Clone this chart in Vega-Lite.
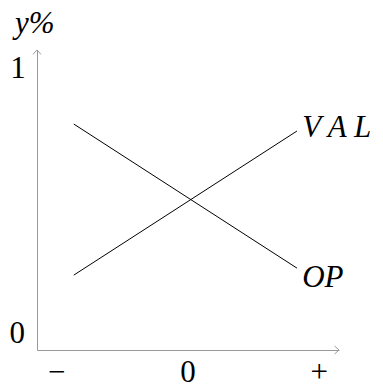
{
  "$schema": "https://vega.github.io/schema/vega-lite/v6.json",
  "width": 302,
  "height": 300,
  "autosize": "none",
  "padding": {"left": 37, "top": 50, "right": 44, "bottom": 39},
  "background": "white",
  "config": {"view": {"stroke": null}},
  "datasets": {
    "lines": [
      {"series": "VAL", "x": -0.87, "y": 0.267},
      {"series": "VAL", "x": 0.83, "y": 0.781},
      {"series": "OP", "x": -0.87, "y": 0.806},
      {"series": "OP", "x": 0.83, "y": 0.292}
    ],
    "ticklabels": [
      {"t": "1", "x": -1.295, "y": 0.97},
      {"t": "0", "x": -1.3, "y": 0.025},
      {"t": "−", "x": -1, "y": -0.114},
      {"t": "0", "x": 0, "y": -0.114},
      {"t": "+", "x": 1, "y": -0.114}
    ],
    "names": [
      {"t": "y%", "x": -1.318, "y": 1.13},
      {"t": "V A L", "x": 0.87, "y": 0.76},
      {"t": "OP", "x": 0.87, "y": 0.225}
    ],
    "arrowUp": [{"x": -1.15, "y": 1.07}],
    "arrowRight": [{"x": 1.15, "y": 0}]
  },
  "layer": [
    {
      "data": {"name": "lines"},
      "mark": {"type": "line", "color": "black", "strokeWidth": 1},
      "encoding": {
        "x": {"field": "x", "type": "quantitative", "scale": {"domain": [-1.15, 1.15], "nice": false, "zero": false},
              "axis": {"grid": false, "ticks": false, "labels": false, "title": null, "domainColor": "#999999", "domainWidth": 1}},
        "y": {"field": "y", "type": "quantitative", "scale": {"domain": [0, 1.07], "nice": false, "zero": false},
              "axis": {"grid": false, "ticks": false, "labels": false, "title": null, "domainColor": "#999999", "domainWidth": 1}},
        "detail": {"field": "series"},
        "order": {"field": "x"}
      }
    },
    {
      "data": {"name": "arrowUp"},
      "mark": {"type": "point", "shape": "M-1,1.1L0,0L1,1.1", "size": 64, "filled": false, "stroke": "#999999", "strokeWidth": 1, "opacity": 1},
      "encoding": {
        "x": {"field": "x", "type": "quantitative"},
        "y": {"field": "y", "type": "quantitative"}
      }
    },
    {
      "data": {"name": "arrowRight"},
      "mark": {"type": "point", "shape": "M-1.1,-1L0,0L-1.1,1", "size": 64, "filled": false, "stroke": "#999999", "strokeWidth": 1, "opacity": 1},
      "encoding": {
        "x": {"field": "x", "type": "quantitative"},
        "y": {"field": "y", "type": "quantitative"}
      }
    },
    {
      "data": {"name": "ticklabels"},
      "mark": {"type": "text", "font": "Liberation Serif", "fontSize": 31, "align": "center", "baseline": "alphabetic", "color": "black"},
      "encoding": {
        "x": {"field": "x", "type": "quantitative"},
        "y": {"field": "y", "type": "quantitative"},
        "text": {"field": "t"}
      }
    },
    {
      "data": {"name": "names"},
      "mark": {"type": "text", "font": "Liberation Serif", "fontSize": 31, "fontStyle": "italic", "align": "left", "baseline": "alphabetic", "color": "black"},
      "encoding": {
        "x": {"field": "x", "type": "quantitative"},
        "y": {"field": "y", "type": "quantitative"},
        "text": {"field": "t"}
      }
    }
  ]
}
